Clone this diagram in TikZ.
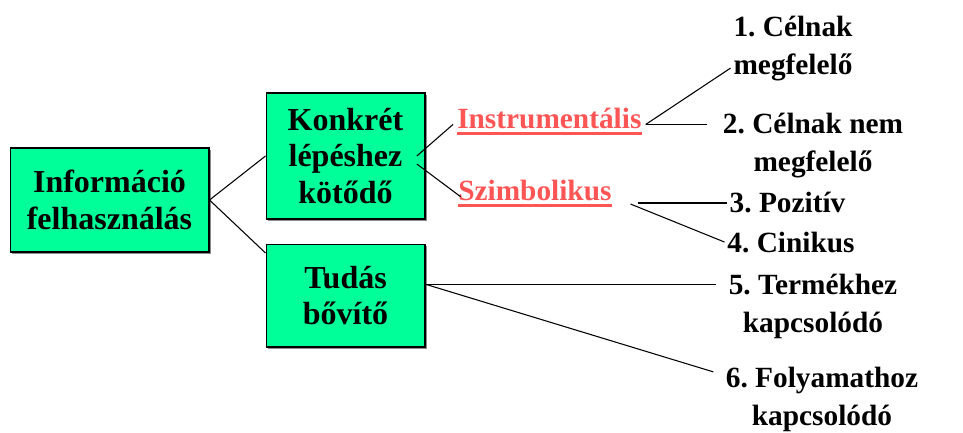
\documentclass[tikz,border=0pt]{standalone}
\usepackage{fontspec}
\setmainfont{Liberation Serif}
\usepackage{tikz}
\usetikzlibrary{calc,shadows}
\definecolor{boxgreen}{HTML}{00FF99}
\definecolor{kindred}{HTML}{FF5555}
\frenchspacing

\begin{document}
\begin{tikzpicture}[x=0.75pt,y=-0.75pt,
      box/.style={draw=black,line width=1pt,fill=boxgreen,align=center,inner sep=2pt,
        font=\fontsize{24}{27.5}\selectfont\bfseries,
        drop shadow={shadow xshift=1.6pt,shadow yshift=-1.6pt,fill=black!45,opacity=1}},
      kind/.style={inner xsep=0pt,inner ysep=2pt,text=kindred,font=\fontsize{22}{28}\selectfont\bfseries},
      uline/.style={draw=kindred,line width=2.5pt},
      lbl/.style={align=center,inner sep=2pt,font=\fontsize{22}{28.5}\selectfont\bfseries},
      link/.style={line width=0.8pt}
    ]
    \useasboundingbox (0,0) rectangle (963,432);
    \node[box,minimum width=149pt,minimum height=78pt] (info) at (109.5,200) {Információ\\felhasználás};
    \node[box,minimum width=119pt,minimum height=94.5pt] (konkret) at (345.5,156) {Konkrét\\lépéshez\\kötődő};
    \node[box,minimum width=119pt,minimum height=77pt] (tudas) at (345.5,295.5) {Tudás\\bővítő};

    \node[kind,anchor=base west] (instr) at (457,128) {Instrumentális};
    \node[kind,anchor=base west] (szimb) at (458,200) {Szimbolikus};
    \draw[uline] ([yshift=-4pt]instr.base west) -- ([yshift=-4pt]instr.base east);
    \draw[uline] ([yshift=-4pt]szimb.base west) -- ([yshift=-4pt]szimb.base east);

    \node[lbl] (l1) at (793,49) {1. Célnak\\megfelelő};
    \node[lbl] (l2) at (813,145.5) {2. Célnak nem\\megfelelő};
    \node[lbl,anchor=base] (l3) at (787.5,212) {3. Pozitív};
    \node[lbl,anchor=base] (l4) at (791,252) {4. Cinikus};
    \node[lbl] (l5) at (813,306.5) {5. Termékhez\\kapcsolódó};
    \node[lbl] (l6) at (822,399.5) {6. Folyamathoz\\kapcsolódó};

    \draw[link] (info.east) -- (konkret.west);
    \draw[link] (info.east) -- (tudas.152);
    \draw[link] ([xshift=-6.5pt]konkret.east) -- ([xshift=-3pt]instr.184);
    \draw[link] ([xshift=-6.5pt,yshift=-6pt]konkret.east) -- ([xshift=2pt]szimb.185);
    \draw[link] ([xshift=3pt]instr.-4) -- (l1.197);
    \draw[link,shorten >=10pt] ([xshift=3pt]instr.-4) -- (instr.-4 -| l2.west);
    \draw[link] ([xshift=19.5pt,yshift=-9.75pt]szimb.east) coordinate (sz) -- (sz -| l3.west);
    \draw[link] ([xshift=14pt,yshift=-10.5pt]szimb.east) -- (l4.west);
    \draw[link,shorten >=7.5pt] (tudas.8) -- (tudas.8 -| l5.west);
    \draw[link,shorten >=7.5pt] (tudas.8) -- (l6.166);
  \end{tikzpicture}
\end{document}
